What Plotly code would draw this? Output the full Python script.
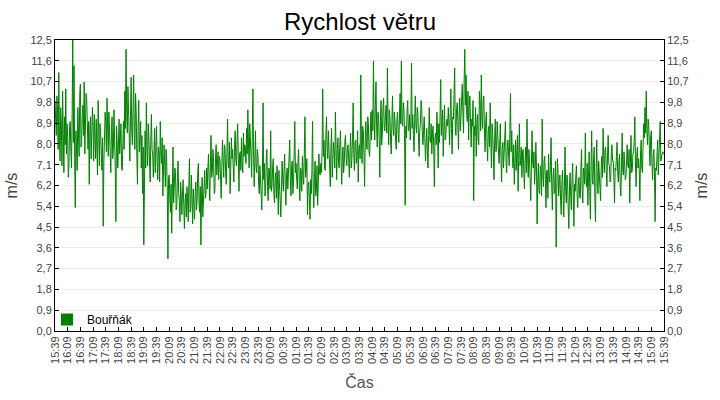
import pandas as pd
import plotly.graph_objects as go

# Wind speed (m/s), one value every 90 seconds from 15:39 to 15:39 next day
# (one row = 30 minutes)
speed = [
    9.9, 8.7, 8.4, 10.1, 9.4, 7.8, 11.1, 8.2, 7.3, 9.6, 8.9, 7.1, 10.3, 8.5, 6.8, 9.2, 8.0, 10.4, 7.6, 8.9,
    8.3, 6.6, 7.2, 8.8, 9.0, 7.7, 7.0, 9.3, 12.5, 8.1, 11.4, 7.4, 5.3, 8.6, 7.9, 6.9, 9.6, 8.0, 7.5, 10.2,
    10.6, 7.9, 8.1, 9.3, 9.7, 8.4, 10.7, 7.6, 8.6, 10.2, 9.9, 8.3, 7.8, 9.0, 6.3, 8.7, 9.2, 7.4, 8.5, 9.6,
    8.8, 7.3, 9.3, 8.0, 7.4, 9.1, 8.2, 6.7, 9.9, 8.4, 7.1, 8.9, 8.5, 7.6, 6.9, 8.3, 4.5, 7.2, 8.0, 9.4,
    9.0, 7.7, 10.0, 8.3, 7.5, 9.4, 8.7, 7.2, 6.8, 8.6, 9.2, 7.4, 7.9, 9.5, 8.4, 6.9, 4.7, 8.8, 8.1, 7.0,
    8.2, 9.1, 7.6, 8.4, 8.9, 7.0, 6.9, 8.1, 9.0, 7.8, 10.3, 8.7, 12.1, 9.4, 8.5, 10.5, 9.6, 8.0, 7.3, 9.2,
    10.9, 8.6, 8.0, 9.5, 11.0, 8.3, 7.8, 10.2, 9.4, 7.5, 6.3, 8.8, 9.9, 7.7, 8.2, 9.0, 7.0, 8.4, 5.9, 7.9,
    3.7, 7.4, 8.6, 7.0, 9.8, 8.1, 7.1, 8.9, 8.4, 7.3, 6.4, 8.2, 9.3, 7.8, 7.6, 6.6, 8.0, 8.7, 6.8, 7.5,
    8.8, 7.3, 6.5, 7.9, 7.7, 6.4, 9.0, 7.6, 7.2, 8.3, 5.8, 6.9, 8.0, 7.1, 6.2, 7.8, 7.4, 6.0, 3.1, 6.6,
    6.7, 5.7, 5.1, 6.3, 4.2, 6.1, 7.9, 5.5, 6.0, 7.0, 6.8, 5.2, 5.4, 6.6, 7.3, 5.9, 5.6, 4.7, 6.4, 5.8,
    5.0, 6.0, 6.5, 5.4, 4.4, 5.6, 5.9, 4.9, 6.2, 5.7, 4.7, 6.3, 7.4, 5.1, 5.3, 6.7, 5.8, 4.6, 6.1, 5.5,
    4.8, 5.9, 6.4, 5.2, 5.6, 6.8, 7.2, 5.5, 5.1, 6.2, 3.7, 5.8, 6.6, 4.9, 5.4, 6.5, 6.9, 5.7, 5.9, 7.0,
    6.1, 7.0, 7.6, 6.4, 5.6, 7.2, 8.4, 6.6, 6.8, 7.8, 7.3, 5.9, 6.0, 7.4, 8.0, 6.7, 7.1, 7.7, 6.5, 7.5,
    7.4, 6.5, 5.7, 7.1, 8.2, 7.3, 6.6, 8.0, 7.9, 6.8, 6.3, 7.6, 9.1, 7.2, 7.0, 8.1, 5.9, 6.9, 8.3, 7.4,
    7.8, 7.0, 6.4, 7.9, 8.6, 7.4, 7.1, 8.2, 8.9, 7.3, 6.0, 7.6, 7.7, 6.9, 8.3, 7.2, 6.8, 8.5, 7.5, 8.0,
    7.9, 7.2, 8.7, 7.6, 9.5, 8.1, 7.0, 8.9, 8.4, 7.5, 6.6, 8.0, 10.4, 7.7, 6.2, 7.3, 8.6, 7.0, 6.8, 7.8,
    7.5, 6.3, 5.9, 7.1, 6.4, 5.6, 5.2, 6.8, 9.8, 6.5, 7.2, 5.8, 6.0, 7.4, 7.8, 6.2, 5.6, 7.0, 6.9, 6.1,
    8.6, 6.0, 6.2, 7.0, 7.4, 5.9, 5.5, 6.6, 6.8, 5.7, 7.1, 6.3, 5.0, 6.9, 6.4, 5.4, 4.9, 6.1, 7.3, 6.5,
    6.0, 6.9, 7.6, 6.2, 5.4, 6.7, 7.0, 6.1, 6.6, 7.4, 8.2, 6.5, 5.8, 7.1, 7.3, 5.9, 6.4, 7.7, 9.0, 6.8,
    7.2, 6.5, 6.1, 7.3, 7.8, 6.4, 5.6, 7.0, 6.9, 6.0, 7.5, 6.7, 6.3, 7.6, 9.2, 6.6, 6.8, 7.4, 5.0, 6.2,
    6.4, 5.7, 4.8, 6.5, 5.9, 6.9, 9.0, 6.1, 5.3, 6.6, 7.3, 5.8, 6.0, 7.1, 5.4, 6.3, 7.6, 6.8, 6.7, 7.2,
    6.8, 7.7, 10.4, 7.5, 8.2, 7.0, 6.9, 8.4, 9.2, 7.8, 7.4, 8.6, 8.0, 7.1, 6.2, 7.9, 8.7, 6.6, 7.3, 8.1,
    7.7, 7.0, 9.4, 7.6, 6.5, 7.8, 8.3, 7.2, 7.0, 8.0, 8.6, 7.3, 6.3, 7.5, 7.9, 6.8, 7.2, 8.2, 8.4, 7.4,
    7.1, 7.9, 8.0, 7.3, 6.6, 7.7, 8.5, 7.0, 7.4, 8.3, 9.8, 7.6, 6.9, 8.1, 8.2, 7.2, 7.5, 8.6, 6.4, 7.8,
    8.0, 7.4, 11.0, 8.3, 7.2, 8.8, 8.6, 7.6, 6.2, 8.1, 9.0, 7.9, 7.8, 9.2, 8.9, 7.7, 7.5, 8.5, 9.4, 8.2,
    9.5, 8.6, 11.6, 9.1, 8.2, 9.7, 10.7, 8.8, 7.9, 9.4, 9.3, 8.3, 6.6, 8.9, 9.9, 8.0, 8.5, 9.6, 10.0, 8.7,
    8.6, 9.3, 9.7, 8.5, 11.3, 9.0, 8.0, 9.5, 9.2, 8.2, 7.6, 8.9, 10.1, 8.7, 8.4, 9.4, 9.0, 8.1, 7.8, 9.1,
    9.4, 8.5, 8.1, 9.2, 10.2, 8.9, 11.6, 9.0, 8.8, 9.8, 9.6, 8.4, 5.4, 8.8, 8.3, 9.5, 9.9, 8.6, 8.7, 9.3,
    8.2, 9.0, 11.5, 8.7, 9.3, 8.4, 7.7, 9.1, 10.1, 8.8, 8.5, 9.6, 9.4, 8.3, 7.5, 8.6, 8.9, 9.9, 9.7, 8.5,
    8.0, 8.6, 9.2, 8.3, 7.3, 8.0, 8.7, 7.7, 7.0, 8.4, 9.6, 8.2, 8.1, 8.9, 7.6, 8.5, 8.8, 7.9, 6.2, 8.3,
    8.5, 8.0, 9.4, 8.7, 7.0, 8.9, 8.1, 9.3, 10.8, 8.4, 8.8, 9.5, 7.5, 8.6, 9.7, 8.2, 8.3, 9.0, 9.1, 8.8,
    9.6, 8.9, 8.0, 9.4, 10.4, 8.7, 7.6, 9.2, 9.1, 10.1, 11.3, 8.8, 8.4, 9.5, 9.8, 9.0, 7.8, 9.3, 10.0, 8.6,
    9.2, 10.0, 10.6, 9.4, 8.5, 10.8, 12.1, 9.7, 11.0, 9.3, 9.0, 10.3, 8.2, 9.6, 10.1, 8.9, 7.9, 9.1, 8.8, 9.9,
    5.6, 8.8, 8.4, 9.6, 7.5, 8.9, 9.3, 8.2, 8.0, 10.3, 9.8, 8.6, 11.0, 9.2, 8.7, 9.9, 10.1, 8.5, 7.7, 9.0,
    9.4, 8.1, 7.3, 8.6, 8.8, 7.9, 9.8, 8.3, 7.0, 8.9, 8.5, 7.6, 6.5, 8.2, 9.1, 7.7, 7.8, 9.0, 8.4, 7.4,
    7.2, 8.0, 8.9, 7.4, 6.4, 7.8, 8.1, 7.0, 7.5, 8.4, 9.0, 7.3, 6.8, 7.9, 8.2, 7.6, 7.1, 8.6, 10.2, 7.7,
    8.6, 7.5, 7.0, 8.0, 6.3, 7.2, 8.2, 6.9, 7.6, 8.4, 6.0, 7.4, 8.9, 7.1, 7.3, 7.9, 6.6, 7.7, 7.8, 6.8,
    6.1, 7.3, 7.9, 6.8, 9.1, 7.5, 6.6, 7.8, 7.4, 6.5, 5.6, 7.1, 8.6, 7.2, 7.0, 7.7, 6.3, 6.9, 8.1, 7.0,
    4.6, 6.4, 7.2, 6.0, 5.9, 7.1, 6.8, 5.8, 9.1, 6.7, 6.2, 7.3, 7.5, 6.5, 5.3, 6.9, 6.9, 5.7, 7.6, 6.6,
    6.4, 7.1, 8.3, 6.2, 5.2, 6.6, 7.0, 5.9, 6.1, 7.3, 3.6, 6.0, 7.4, 6.8, 5.8, 6.5, 6.7, 5.6, 5.0, 6.3,
    6.9, 5.8, 4.9, 6.2, 7.9, 6.0, 5.5, 6.7, 6.4, 5.3, 4.4, 6.1, 6.8, 5.7, 5.2, 6.5, 7.2, 5.9, 4.5, 6.3,
    6.0, 6.7, 7.1, 5.9, 5.3, 6.4, 6.6, 5.8, 5.7, 6.9, 7.8, 6.1, 5.5, 7.0, 6.9, 6.3, 8.5, 6.6, 6.2, 7.2,
    5.4, 6.6, 7.7, 6.0, 4.8, 7.1, 8.6, 6.5, 6.3, 7.4, 7.9, 5.7, 4.7, 6.9, 8.2, 6.2, 5.9, 7.3, 6.8, 6.1,
    5.6, 7.0, 7.5, 6.6, 8.7, 7.4, 6.8, 7.8, 7.9, 6.9, 6.2, 7.6, 8.4, 7.2, 7.1, 6.4, 6.5, 7.7, 8.0, 7.3,
    7.3, 6.6, 5.5, 7.0, 6.9, 7.5, 8.1, 6.8, 6.4, 7.3, 7.6, 6.2, 5.8, 7.1, 8.5, 6.9, 6.7, 7.7, 7.2, 6.5,
    6.6, 7.4, 8.0, 7.1, 7.0, 7.8, 5.5, 7.2, 8.4, 6.8, 6.9, 7.6, 7.7, 8.1, 9.2, 7.3, 6.2, 7.5, 7.9, 7.0,
    7.4, 6.9, 5.6, 7.6, 8.2, 7.0, 6.8, 7.9, 8.9, 8.3, 9.6, 8.5, 10.3, 8.7, 8.0, 9.1, 8.8, 7.8, 7.1, 8.4,
    8.6, 7.2, 6.5, 7.5, 7.8, 6.8, 4.7, 7.0, 6.9, 7.6, 8.2, 6.7, 7.4, 8.0, 9.0, 7.3, 7.6, 7.6, 7.7, 7.6,
    7.6,
]

start_time = "2024-05-01 15:39"
step = "90s"
series_name = "Bouřňák"
title_text = "Rychlost větru"
x_title = "Čas"
y_title = "m/s"
y_max = 12.5
y_steps = 14
tick_every = "30min"

times = pd.date_range(start_time, periods=len(speed), freq=step)
tick_times = pd.date_range(times[0], times[-1], freq=tick_every)
tick_labels = [t.strftime("%H:%M") for t in tick_times]
y_ticks = [y_max * i / y_steps for i in range(y_steps + 1)]
y_labels = [f"{v:.1f}".replace(".", ",") for v in y_ticks]

FONT = "Liberation Sans, Arial, sans-serif"
GREEN = "#008000"

fig = go.Figure()
fig.add_trace(go.Scatter(x=times, y=speed, mode="lines",
                         line=dict(color=GREEN, width=1),
                         showlegend=False, hoverinfo="x+y"))
fig.add_trace(go.Scatter(x=times, y=speed, mode="lines", yaxis="y2",
                         line=dict(color=GREEN, width=0), opacity=0,
                         showlegend=False, hoverinfo="skip"))
fig.add_trace(go.Scatter(x=[None], y=[None], mode="markers", name=series_name,
                         marker=dict(symbol="square", size=12, color=GREEN)))

yaxis_common = dict(
    range=[0, y_max], tickvals=y_ticks, ticktext=y_labels,
    ticks="inside", ticklen=4, tickcolor="black",
    showline=True, linecolor="black", linewidth=1,
    tickfont=dict(family=FONT, size=11, color="#444"),
    title=dict(text=y_title, font=dict(family=FONT, size=16, color="#444"), standoff=8),
    zeroline=False, fixedrange=True,
)

fig.update_layout(
    width=720, height=400, autosize=False,
    margin=dict(l=55, r=56, t=40, b=69),
    paper_bgcolor="white", plot_bgcolor="white",
    font=dict(family=FONT, color="#444"),
    title=dict(text=title_text, x=0.5, xanchor="center", y=1 - 22 / 400, yanchor="middle",
               font=dict(family=FONT, size=24, color="black")),
    xaxis=dict(
        type="date", range=[times[0], times[-1]],
        tickvals=tick_times, ticktext=tick_labels, tickangle=-90,
        ticks="inside", ticklen=4, tickcolor="black",
        showline=True, linecolor="black", linewidth=1, mirror=True,
        showgrid=False, zeroline=False,
        tickfont=dict(family=FONT, size=11, color="#444"),
        title=dict(text=x_title, font=dict(family=FONT, size=16, color="#555"), standoff=13),
    ),
    yaxis=dict(**yaxis_common, side="left", showgrid=True, gridcolor="#ebebeb", gridwidth=1),
    yaxis2=dict(**yaxis_common, side="right", overlaying="y", showgrid=False),
    legend=dict(x=-8 / 609, y=-3 / 291, xanchor="left", yanchor="bottom",
                bgcolor="rgba(0,0,0,0)", borderwidth=0,
                font=dict(family=FONT, size=12, color="black"),
                itemwidth=30),
    showlegend=True,
)

fig.write_html("out.html")
